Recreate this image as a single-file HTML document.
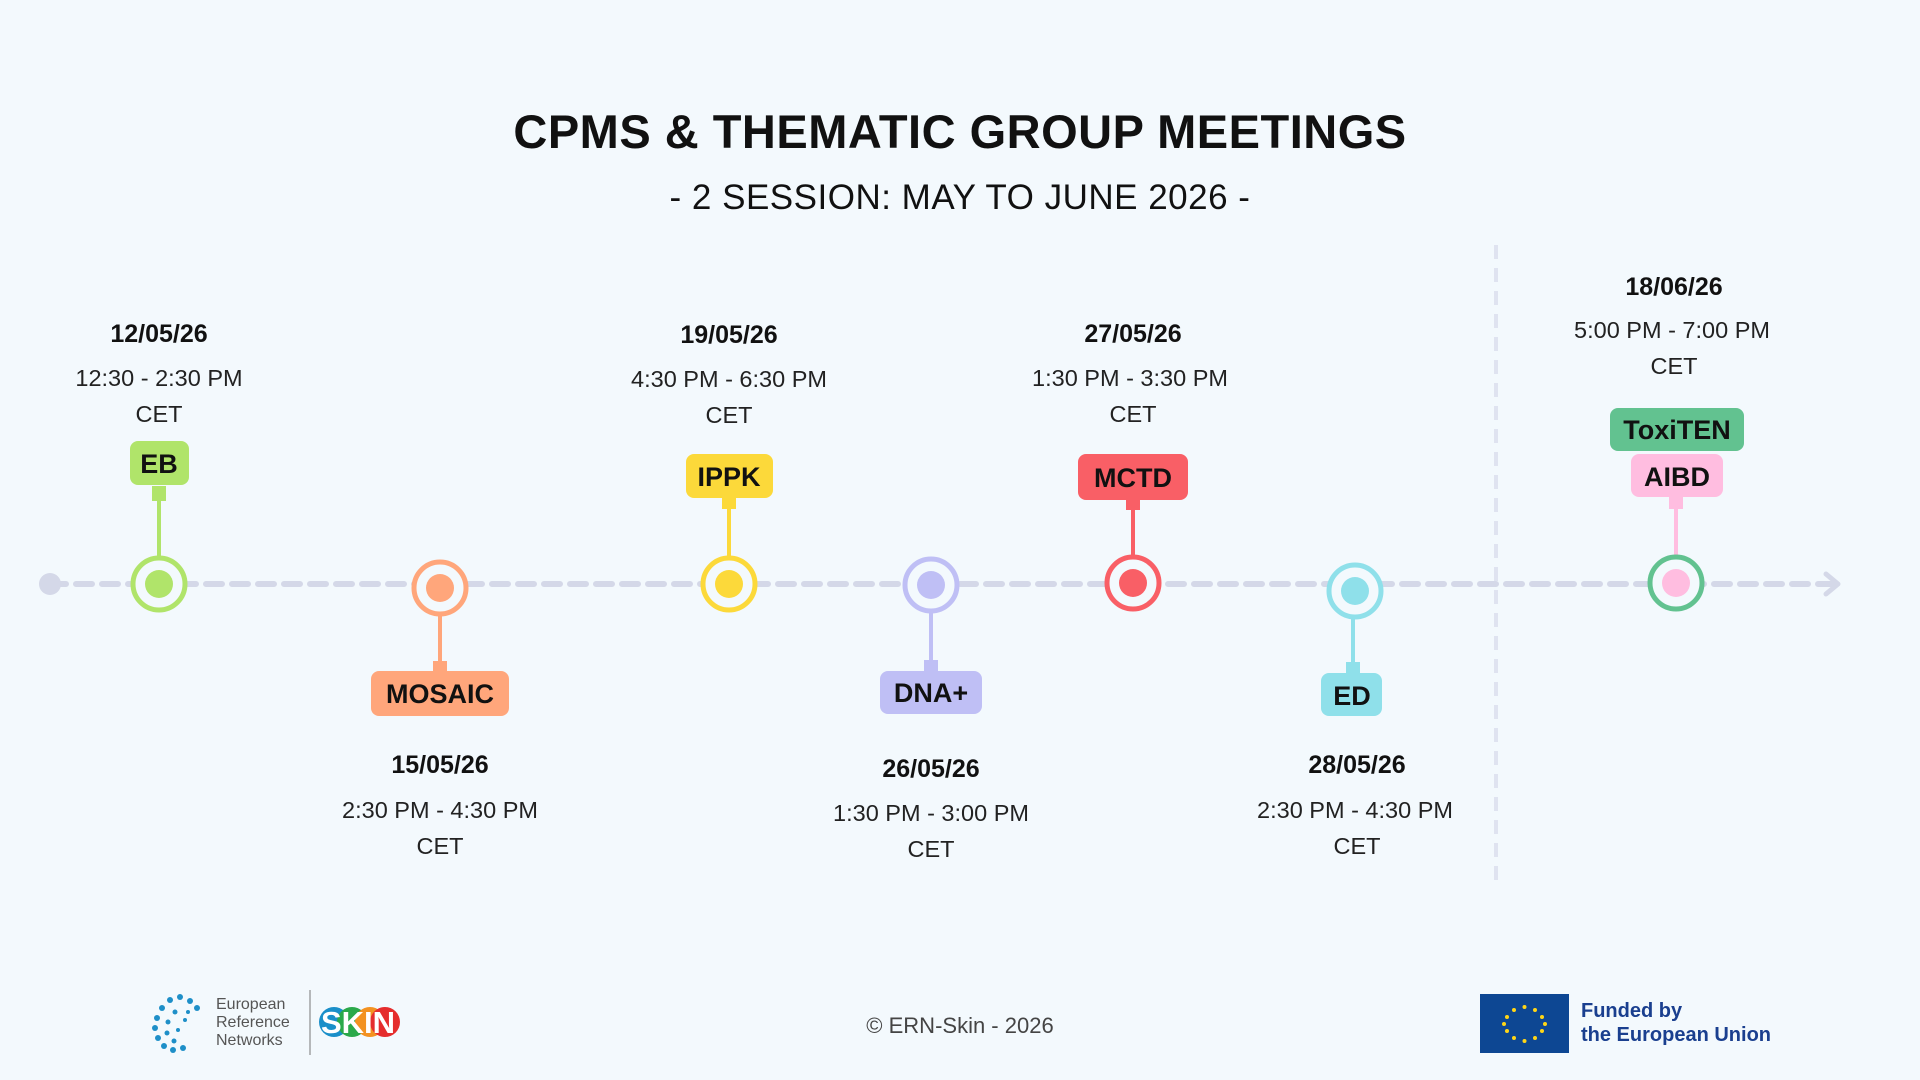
<!DOCTYPE html>
<html><head><meta charset="utf-8"><style>
html,body{margin:0;padding:0;width:1920px;height:1080px;overflow:hidden;background:#f3f9fd}
svg{display:block}
text{font-family:"Liberation Sans",sans-serif}
.d{font-weight:bold;font-size:25px;fill:#111;text-anchor:middle}
.t{font-size:23.5px;fill:#222;text-anchor:middle}
.l{font-weight:bold;font-size:27px;fill:#111;text-anchor:middle}
</style></head><body>
<svg width="1920" height="1080" viewBox="0 0 1920 1080">
<rect width="1920" height="1080" fill="#f3f9fd"/>
<text x="960" y="148" text-anchor="middle" font-weight="bold" font-size="47" letter-spacing="0.5" fill="#111">CPMS &amp; THEMATIC GROUP MEETINGS</text>
<text x="960" y="209" text-anchor="middle" font-size="35" letter-spacing="0.5" fill="#111">- 2 SESSION: MAY TO JUNE 2026 -</text>
<line x1="1496" y1="245" x2="1496" y2="888" stroke="#dfe3f0" stroke-width="4" stroke-dasharray="14 9"/>
<line x1="50" y1="584" x2="1832" y2="584" stroke="#d4d8e8" stroke-width="6" stroke-dasharray="16 10" stroke-linecap="round"/>
<circle cx="50" cy="584" r="11" fill="#d4d8e8"/>
<polyline points="1826,574 1838,584 1826,594" fill="none" stroke="#d4d8e8" stroke-width="5" stroke-linecap="round" stroke-linejoin="round"/>

<line x1="159" y1="495" x2="159" y2="556" stroke="#b0e46a" stroke-width="4"/>
<rect x="152" y="486" width="14" height="15" fill="#b0e46a"/>
<rect x="130" y="441" width="59" height="44" rx="8" fill="#b0e46a"/>
<text class="l" x="159" y="473">EB</text>
<circle cx="159" cy="584" r="26" fill="#f3f9fd" stroke="#b0e46a" stroke-width="5"/>
<circle cx="159" cy="584" r="14" fill="#b0e46a"/>
<text class="d" x="159" y="342">12/05/26</text>
<text class="t" x="159" y="386">12:30 - 2:30 PM</text>
<text class="t" x="159" y="422">CET</text>

<line x1="440" y1="616" x2="440" y2="668" stroke="#ffa67b" stroke-width="4"/>
<rect x="433" y="661" width="14" height="14" fill="#ffa67b"/>
<rect x="371" y="671" width="138" height="45" rx="8" fill="#ffa67b"/>
<text class="l" x="440" y="703">MOSAIC</text>
<circle cx="440" cy="588" r="26" fill="#f3f9fd" stroke="#ffa67b" stroke-width="5"/>
<circle cx="440" cy="588" r="14" fill="#ffa67b"/>
<text class="d" x="440" y="773">15/05/26</text>
<text class="t" x="440" y="818">2:30 PM - 4:30 PM</text>
<text class="t" x="440" y="854">CET</text>

<line x1="729" y1="505" x2="729" y2="556" stroke="#fcd93a" stroke-width="4"/>
<rect x="722" y="497" width="14" height="12" fill="#fcd93a"/>
<rect x="686" y="454" width="87" height="44" rx="8" fill="#fcd93a"/>
<text class="l" x="729" y="486">IPPK</text>
<circle cx="729" cy="584" r="26" fill="#f3f9fd" stroke="#fcd93a" stroke-width="5"/>
<circle cx="729" cy="584" r="14" fill="#fcd93a"/>
<text class="d" x="729" y="343">19/05/26</text>
<text class="t" x="729" y="387">4:30 PM - 6:30 PM</text>
<text class="t" x="729" y="423">CET</text>

<line x1="931" y1="612" x2="931" y2="668" stroke="#bfbff5" stroke-width="4"/>
<rect x="924" y="660" width="14" height="12" fill="#bfbff5"/>
<rect x="880" y="671" width="102" height="43" rx="8" fill="#bfbff5"/>
<text class="l" x="931" y="702">DNA+</text>
<circle cx="931" cy="585" r="26" fill="#f3f9fd" stroke="#bfbff5" stroke-width="5"/>
<circle cx="931" cy="585" r="14" fill="#bfbff5"/>
<text class="d" x="931" y="777">26/05/26</text>
<text class="t" x="931" y="821">1:30 PM - 3:00 PM</text>
<text class="t" x="931" y="857">CET</text>

<line x1="1133" y1="505" x2="1133" y2="556" stroke="#f95f66" stroke-width="4"/>
<rect x="1126" y="498" width="14" height="12" fill="#f95f66"/>
<rect x="1078" y="454" width="110" height="46" rx="8" fill="#f95f66"/>
<text class="l" x="1133" y="487">MCTD</text>
<circle cx="1133" cy="583" r="26" fill="#f3f9fd" stroke="#f95f66" stroke-width="5"/>
<circle cx="1133" cy="583" r="14" fill="#f95f66"/>
<text class="d" x="1133" y="342">27/05/26</text>
<text class="t" x="1130" y="386">1:30 PM - 3:30 PM</text>
<text class="t" x="1133" y="422">CET</text>

<line x1="1353" y1="618" x2="1353" y2="670" stroke="#8fe0ea" stroke-width="4"/>
<rect x="1346" y="662" width="14" height="12" fill="#8fe0ea"/>
<rect x="1321" y="673" width="61" height="43" rx="8" fill="#8fe0ea"/>
<text class="l" x="1352" y="705">ED</text>
<circle cx="1355" cy="591" r="26" fill="#f3f9fd" stroke="#8fe0ea" stroke-width="5"/>
<circle cx="1355" cy="591" r="14" fill="#8fe0ea"/>
<text class="d" x="1357" y="773">28/05/26</text>
<text class="t" x="1355" y="818">2:30 PM - 4:30 PM</text>
<text class="t" x="1357" y="854">CET</text>

<line x1="1676" y1="505" x2="1676" y2="556" stroke="#ffbde0" stroke-width="4"/>
<rect x="1669" y="496" width="14" height="13" fill="#ffbde0"/>
<rect x="1610" y="408" width="134" height="43" rx="8" fill="#62c290"/>
<text class="l" x="1677" y="439">ToxiTEN</text>
<rect x="1631" y="454" width="92" height="43" rx="8" fill="#ffbde0"/>
<text class="l" x="1677" y="486">AIBD</text>
<circle cx="1676" cy="583" r="26" fill="#f3f9fd" stroke="#62c290" stroke-width="5"/>
<circle cx="1676" cy="583" r="14" fill="#ffbde0"/>
<text class="d" x="1674" y="295">18/06/26</text>
<text class="t" x="1672" y="338">5:00 PM - 7:00 PM</text>
<text class="t" x="1674" y="374">CET</text>

<text x="960" y="1033" text-anchor="middle" font-size="22" fill="#444">© ERN-Skin - 2026</text>
<g fill="#1e8fc8">
<circle cx="170" cy="1000" r="3"/><circle cx="180" cy="997" r="3"/><circle cx="190" cy="1001" r="3"/>
<circle cx="162" cy="1008" r="3"/><circle cx="197" cy="1008" r="3"/><circle cx="157" cy="1018" r="3"/>
<circle cx="155" cy="1028" r="3"/><circle cx="158" cy="1038" r="3"/><circle cx="164" cy="1046" r="3"/>
<circle cx="173" cy="1050" r="3"/><circle cx="183" cy="1048" r="3"/><circle cx="175" cy="1012" r="2.5"/>
<circle cx="168" cy="1022" r="2.5"/><circle cx="167" cy="1033" r="2.5"/><circle cx="174" cy="1041" r="2.5"/>
<circle cx="185" cy="1020" r="2"/><circle cx="178" cy="1030" r="2"/><circle cx="188" cy="1012" r="2"/>
</g>
<text font-family="Liberation Serif" font-size="16" fill="#555"><tspan x="216" y="1009">European</tspan><tspan x="216" y="1027">Reference</tspan><tspan x="216" y="1045">Networks</tspan></text>
<line x1="310" y1="990" x2="310" y2="1055" stroke="#777" stroke-width="1"/>
<circle cx="334" cy="1022" r="15" fill="#1a8fc9"/><circle cx="352" cy="1022" r="15" fill="#2aa94a"/><circle cx="370" cy="1022" r="15" fill="#f39221"/><circle cx="385" cy="1022" r="15" fill="#e52d2d"/>
<text x="358" y="1033" text-anchor="middle" font-weight="bold" font-size="31" fill="#fff">SKIN</text>
<rect x="1480" y="994" width="89" height="59" fill="#0d4793"/>
<g fill="#ffd617">
<circle cx="1524.5" cy="1007" r="2"/><circle cx="1535" cy="1010" r="2"/><circle cx="1542" cy="1017" r="2"/><circle cx="1545" cy="1024" r="2"/><circle cx="1542" cy="1031" r="2"/><circle cx="1535" cy="1038" r="2"/><circle cx="1524.5" cy="1041" r="2"/><circle cx="1514" cy="1038" r="2"/><circle cx="1507" cy="1031" r="2"/><circle cx="1504" cy="1024" r="2"/><circle cx="1507" cy="1017" r="2"/><circle cx="1514" cy="1010" r="2"/>
</g>
<text font-weight="bold" font-size="20" fill="#1a3f8f"><tspan x="1581" y="1017">Funded by</tspan><tspan x="1581" y="1041">the European Union</tspan></text>
</svg>
</body></html>
